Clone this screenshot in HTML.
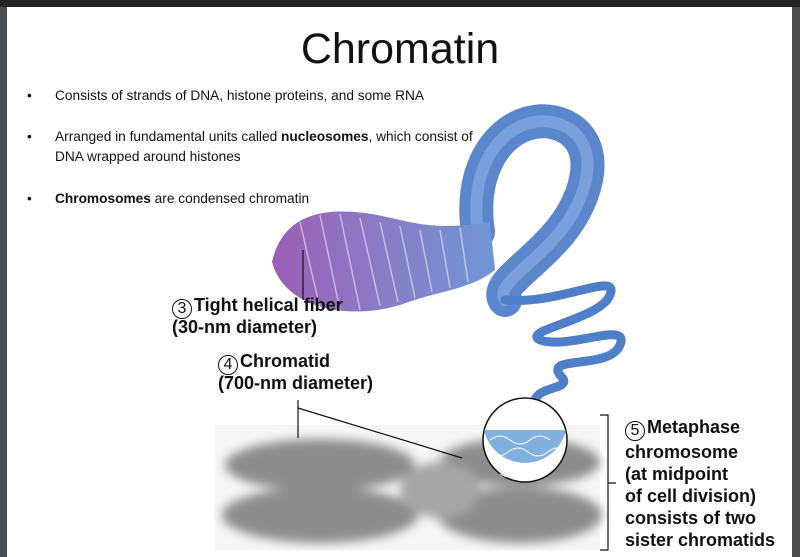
<!DOCTYPE html>
<html><head><style>
body{margin:0;width:800px;height:557px;overflow:hidden;background:#fff;position:relative;font-family:"Liberation Sans",sans-serif}
.t{position:absolute;white-space:nowrap}
.b{font-size:13.7px;color:#111}
.l{font-weight:bold;font-size:18px;color:#111}
.c{display:inline-block;width:18px;height:18px;border:1.5px solid #111;border-radius:50%;text-align:center;line-height:18px;font-weight:normal;font-size:16px;margin-right:2px;vertical-align:-2px}
</style></head><body>
<div style="position:absolute;left:0;top:0;width:800px;height:7px;background:#232323"></div>
<div style="position:absolute;left:0;top:7px;width:7px;height:550px;background:#4a4f54"></div>
<div style="position:absolute;left:792px;top:7px;width:8px;height:550px;background:#4a4f54"></div>
<svg width="800" height="557" style="position:absolute;left:0;top:0">
<defs>
<filter id="bl" x="-20%" y="-40%" width="140%" height="180%"><feGaussianBlur stdDeviation="5"/></filter>
<linearGradient id="pg" x1="0" y1="0" x2="1" y2="0"><stop offset="0" stop-color="#9a5fb5"/><stop offset="0.5" stop-color="#8a7cc6"/><stop offset="1" stop-color="#6f96d6"/></linearGradient>
</defs>
<rect x="215" y="425" width="385" height="125" fill="#f6f6f6"/>
<g filter="url(#bl)" fill="#7a7a7a" opacity=".85">
<ellipse cx="320" cy="465" rx="95" ry="26"/>
<ellipse cx="320" cy="515" rx="98" ry="28"/>
<ellipse cx="520" cy="462" rx="80" ry="24"/>
<ellipse cx="520" cy="515" rx="82" ry="28"/>
<ellipse cx="440" cy="490" rx="40" ry="28" fill="#999"/>
</g>
<path d="M478 232 C466 150,520 108,562 125 C602 142,590 195,560 232 C530 268,495 285,505 300" fill="none" stroke="#5b86cc" stroke-width="34" stroke-linecap="round"/>
<path d="M478 232 C466 150,520 108,562 125 C602 142,590 195,560 232 C530 268,495 285,505 300" fill="none" stroke="#8fb0e6" stroke-width="12" stroke-linecap="round" opacity=".6"/>
<path d="M505 300 C560 305,620 270,610 295 C600 320,520 330,540 340 C570 350,630 320,620 345 C610 370,545 355,560 375 C575 390,540 385,535 400" fill="none" stroke="#4f7fc8" stroke-width="9" stroke-linecap="round"/>
<path d="M272 262 C285 205,340 205,400 220 C440 230,470 225,490 222 L495 270 C470 290,440 290,400 305 C350 320,285 310,272 262Z" fill="url(#pg)"/>
<g stroke="#fff" stroke-width="1.5" opacity=".5">
<path d="M300 222 L320 308 M320 215 L340 310 M340 214 L360 310 M360 218 L380 306 M380 222 L398 302 M400 226 L415 298 M420 230 L432 292 M440 230 L450 288 M460 228 L468 282"/>
</g>
<circle cx="525" cy="440" r="42" fill="#fff" stroke="#111" stroke-width="1.5"/>
<path d="M484 430 L566 430 A42 42 0 0 1 484 430Z" fill="#7fb0e0"/>
<g stroke="#fff" stroke-width="1" fill="none"><path d="M490 440 q10 -8 20 0 t20 0 t20 0 M488 452 q10 8 20 0 t20 0 t20 0 t15 0 M492 464 q10 -6 20 0 t20 0 t20 0 M500 474 q10 6 20 0 t20 0"/></g>
<g stroke="#111" stroke-width="1.2" fill="none">
<path d="M303 250 L303 300"/>
<path d="M298 400 L298 438 M298 408 L462 458"/>
<path d="M600 415 L608 415 L608 550 L600 550 M608 483 L616 483"/>
</g>
</svg>
<div class="t" style="left:0;width:800px;text-align:center;top:25px;font-size:43px;color:#111">Chromatin</div>
<div class="t b" style="left:27px;top:88px">•</div>
<div class="t b" style="left:55px;top:88px">Consists of strands of DNA, histone proteins, and some RNA</div>
<div class="t b" style="left:27px;top:129px">•</div>
<div class="t b" style="left:55px;top:129px">Arranged in fundamental units called <b>nucleosomes</b>, which consist of</div>
<div class="t b" style="left:55px;top:149px">DNA wrapped around histones</div>
<div class="t b" style="left:27px;top:191px">•</div>
<div class="t b" style="left:55px;top:191px"><b>Chromosomes</b> are condensed chromatin</div>
<div class="t l" style="left:172px;top:295px"><span class="c">3</span>Tight helical fiber</div>
<div class="t l" style="left:172px;top:317px">(30-nm diameter)</div>
<div class="t l" style="left:218px;top:351px"><span class="c">4</span>Chromatid</div>
<div class="t l" style="left:218px;top:373px">(700-nm diameter)</div>
<div class="t l" style="left:625px;top:416px;line-height:22px"><span class="c">5</span>Metaphase<br>chromosome<br>(at midpoint<br>of cell division)<br>consists of two<br>sister chromatids</div>
</body></html>
